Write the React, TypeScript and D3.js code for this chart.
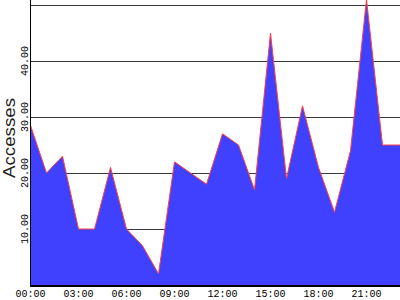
import React from "react";
import * as d3 from "d3";

const hours = [0,1,2,3,4,5,6,7,8,9,10,11,12,13,14,15,16,17,18,19,20,21,22,23];
const accesses = [28.5,20,23,10,10,21,10,7,2,22,20,18,27,25,17,45,19,32,21,13,24,51,25,25];
const yTicks = [10,20,30,40];
const gridValues = [10,20,30,40,50];
const xTickHours = [0,3,6,9,12,15,18,21];
const xTickLabels = ["00:00","03:00","06:00","09:00","12:00","15:00","18:00","21:00"];
const yTitle = "Accesses";

export default function App() {
  const W = 400, H = 300;
  const left = 30.5, right = 400, bottom = 285, top = 0;
  const x = d3.scaleLinear().domain([0, 23 + 1.5 / 16]).range([left, right]);
  const y = d3.scaleLinear().domain([0, 285 / 5.6]).range([bottom, top]);
  const pts = hours.map((h, i) => [h, accesses[i]] as [number, number]);
  const ext = [...pts, [x.domain()[1], accesses[accesses.length - 1]] as [number, number]];
  const area = d3.area<[number, number]>().x(d => x(d[0])).y0(y(0)).y1(d => y(d[1]))(ext) || "";
  const line = d3.line<[number, number]>().x(d => x(d[0])).y(d => y(d[1]))(ext) || "";
  const mono = "'Liberation Mono', 'DejaVu Sans Mono', monospace";
  return (
    <svg width={W} height={H} style={{ position: "absolute", left: 0, top: 0, background: "#fff" }}>
      <rect x={0} y={0} width={W} height={H} fill="#fff" />
      {gridValues.map(v => (
        <line key={v} x1={left} x2={right} y1={Math.round(y(v)) + 0.5} y2={Math.round(y(v)) + 0.5} stroke="#3a3a3a" strokeWidth={1} shapeRendering="crispEdges" />
      ))}
      <path d={area} fill="#4040ff" stroke="none" />
      <path d={line} fill="none" stroke="#ff4040" strokeWidth={1} />
      <line x1={30.5} x2={30.5} y1={0} y2={287} stroke="#000" strokeWidth={1} shapeRendering="crispEdges" />
      <line x1={30} x2={400} y1={286} y2={286} stroke="#000" strokeWidth={2} shapeRendering="crispEdges" />
      {yTicks.map(v => (
        <text key={v} transform={`translate(27.5,${y(v)}) rotate(-90)`} textAnchor="middle" fontFamily={mono} fontSize={10} fill="#000">
          {v.toFixed(2)}
        </text>
      ))}
      {xTickHours.map((h, i) => (
        <text key={h} x={x(h)} y={297} textAnchor="middle" fontFamily={mono} fontSize={10} fill="#000">
          {xTickLabels[i]}
        </text>
      ))}
      <text transform={`translate(14.5,138) rotate(-90)`} textAnchor="middle" fontFamily="'Liberation Sans', sans-serif" fontSize={16} textLength={80} lengthAdjust="spacingAndGlyphs" fill="#222">
        {yTitle}
      </text>
    </svg>
  );
}
